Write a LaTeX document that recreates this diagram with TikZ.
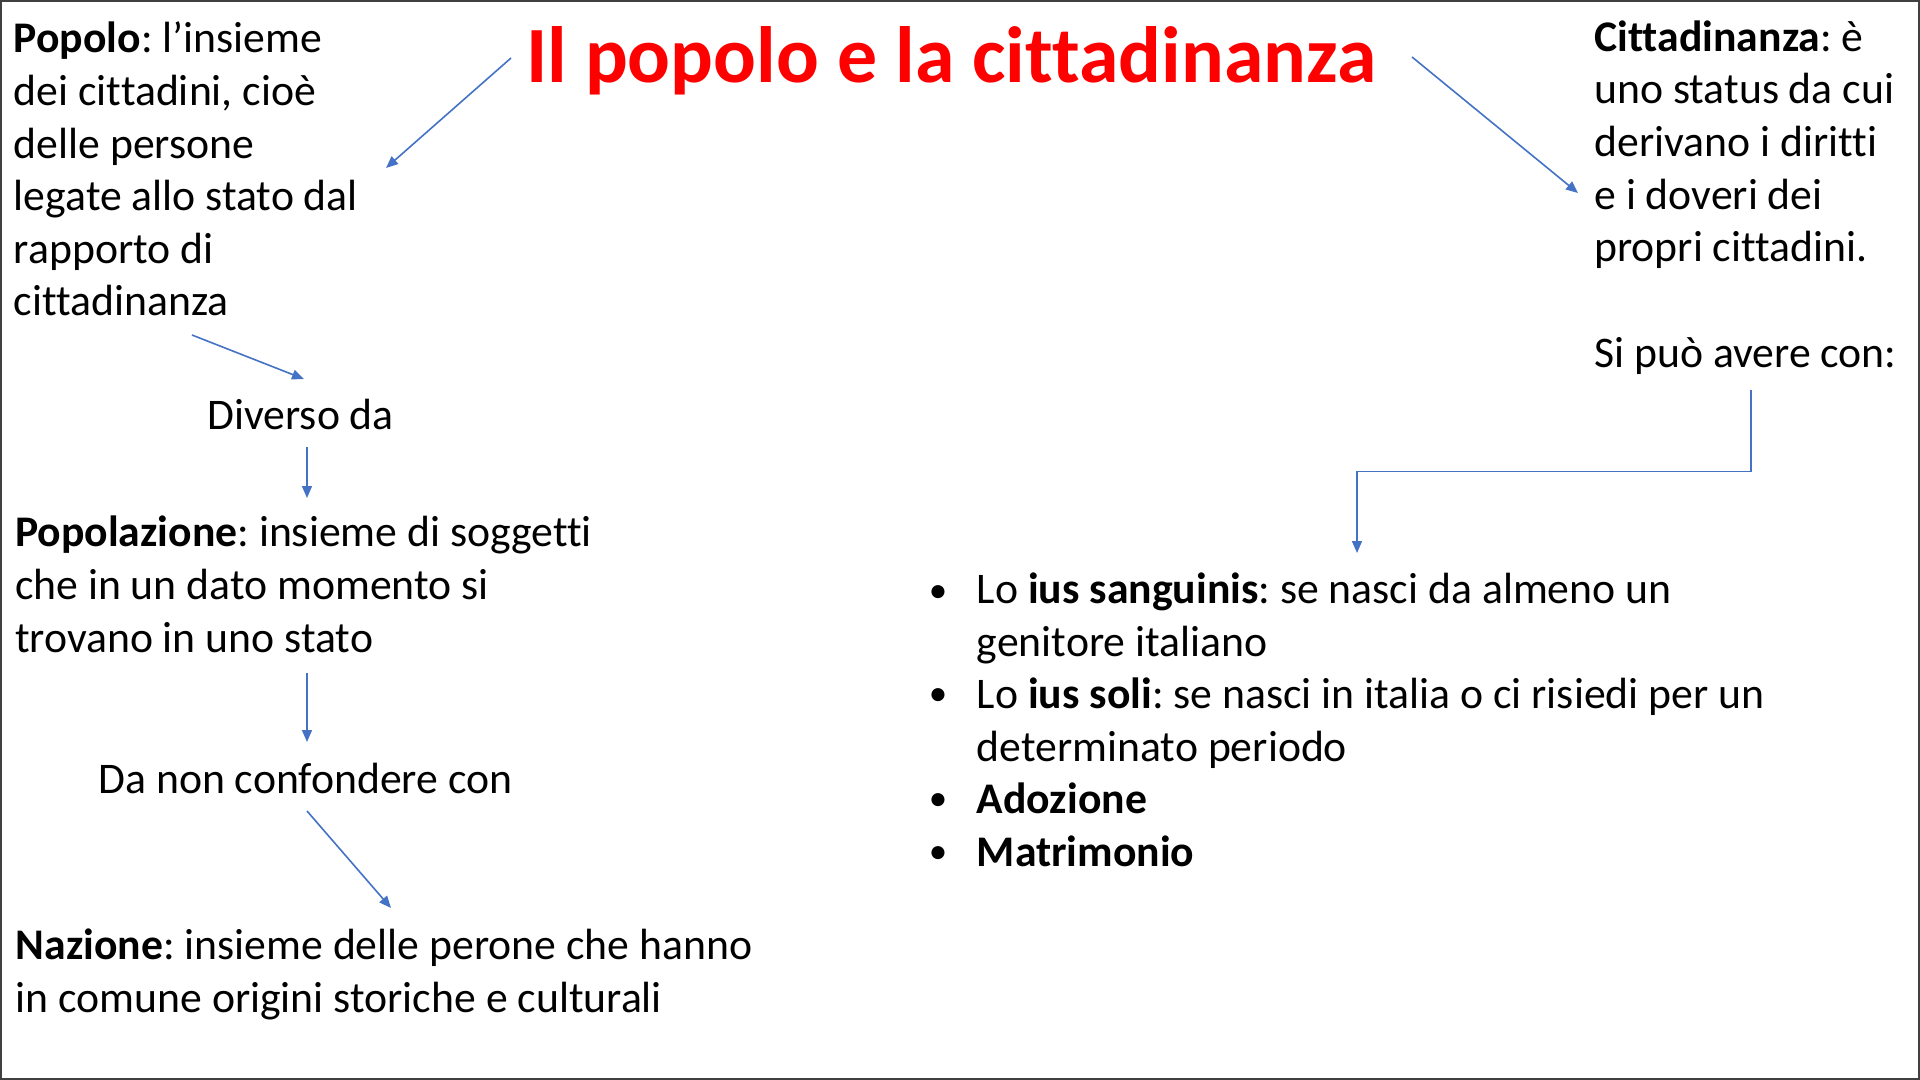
\documentclass[tikz,border=0pt]{standalone}
\usepackage{fontspec}
\setmainfont{Carlito}[Ligatures=NoCommon]
\usetikzlibrary{arrows.meta}
\usetikzlibrary{positioning}
\definecolor{arrowblue}{HTML}{4472C4}
\definecolor{titlered}{HTML}{FF0000}
\tikzset{
    txt/.style={
           anchor=base west,
           align=left,
           inner sep=0pt,
           font=\frenchspacing\fontsize{21.85pt}{26.3pt}\selectfont,
           },
    dot/.style={
           anchor=base,
           inner sep=0pt,
           font=\fontsize{18.5pt}{20pt}\selectfont,
           },
    titletxt/.style={
           anchor=base,
           inner sep=0pt,
           text=titlered,
           font=\bfseries\fontsize{39.9pt}{47pt}\selectfont,
           },
    arr/.style={
           draw=arrowblue,
           line width=0.8pt,
           -{Triangle[length=6pt,width=5pt]},
           },
}
\begin{document}
\begin{tikzpicture}[x=0.5pt,y=-0.5pt]
      \useasboundingbox (0,0) rectangle (1920,1080);
      \draw[black!75, line width=1pt] (1,1) rectangle (1919,1079);
      \node[titletxt] (title) at (951,83) {Il popolo e la cittadinanza};
      % left column (base = last line)
      \node[txt] (popolo) at (13.5,316) {\textbf{Popolo}: l’insieme\\dei cittadini, cioè\\delle persone\\legate allo stato dal\\rapporto di\\cittadinanza};
      \node[txt] (diverso) at (207,429) {Diverso da};
      \node[txt] (popolazione) at (14.7,652) {\textbf{Popolazione}: insieme di soggetti\\che in un dato momento si\\trovano in uno stato};
      \node[txt] (confondere) at (98,793) {Da non confondere con};
      \node[txt] (nazione) at (15.3,1012) {\textbf{Nazione}: insieme delle perone che hanno\\in comune origini storiche e culturali};
      % right column
      \node[txt] (cittadinanza) at (1594,367) {\textbf{Cittadinanza}: è\\uno status da cui\\derivano i diritti\\e i doveri dei\\propri cittadini.\\~\\Si può avere con:};
      \node[txt] (sanguinis) at (976.5,656) {Lo \textbf{ius sanguinis}: se nasci da almeno un\\genitore italiano};
      \node[txt] (soli) at (976.5,761) {Lo \textbf{ius soli}: se nasci in italia o ci risiedi per un\\determinato periodo};
      \node[txt] (adozione) at (976.5,813) {\textbf{Adozione}};
      \node[txt] (matrimonio) at (976.5,866) {\textbf{Matrimonio}};
      \foreach \n/\y in {sanguinis/602,soli/705.3,adozione/810.3,matrimonio/863.3}
          \node[dot] (dot-\n) at (938,\y) {•};
      % connector ends
      \coordinate (t-popolo) at (511,58);
      \coordinate (popolo-in) at (386,168);
      \coordinate (t-citt) at (1412,57);
      \coordinate (citt-in) at (1578,193);
      \coordinate (popolo-out) at (192,335);
      \coordinate (diverso-in) at (304,379);
      \coordinate (diverso-out) at (307,447);
      \coordinate (popolazione-in) at (307,498);
      \coordinate (popolazione-out) at (307,673);
      \coordinate (confondere-in) at (307,742);
      \coordinate (confondere-out) at (307,811);
      \coordinate (nazione-in) at (391,908);
      \coordinate (citt-out) at (1751,390);
      \coordinate (lista-in) at (1357,553);
      \path
      (t-popolo) edge[arr] (popolo-in)
      (t-citt) edge[arr] (citt-in)
      (popolo-out) edge[arr] (diverso-in)
      (diverso-out) edge[arr] (popolazione-in)
      (popolazione-out) edge[arr] (confondere-in)
      (confondere-out) edge[arr] (nazione-in);
      \draw[arr] (citt-out) -- ++(0,81.5) -| (lista-in);
\end{tikzpicture}
\end{document}
